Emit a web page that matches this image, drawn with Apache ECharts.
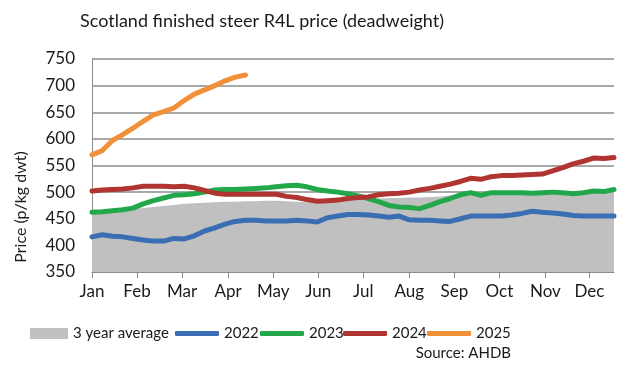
<!DOCTYPE html>
<html>
<head>
<meta charset="utf-8">
<script src="https://cdn.jsdelivr.net/npm/echarts@6/dist/echarts.min.js"></script>
<style>html,body{margin:0;padding:0;background:#fff}#c{width:632px;height:369px}</style>
</head>
<body>
<div id="c"></div>
<script>
// week index 0..51 on the x axis
const weeks = Array.from({length: 52}, (_, i) => i);
const monthLabels = ['Jan','Feb','Mar','Apr','May','Jun','Jul','Aug','Sep','Oct','Nov','Dec'];
const monthTickWeeks = [0, 4.4, 8.8, 13.3, 17.7, 22.1, 26.5, 31.0, 35.4, 39.8, 44.3, 48.6];
const yTicks = [350, 400, 450, 500, 550, 600, 650, 700, 750];

const avg3yr = [461,462,464,466,468,470,472,474,476,478,479,480,481,482,482,483,483,484,484,483,482,481,481,482,484,485,486,487,488,489,489,490,490,491,492,494,496,497,498,498,499,499,499,499,500,500,500,500,500,500,500,500];
const y2022 = [416,420,417,416,413,410,408,408,413,412,418,427,433,440,445,447,447,446,446,446,447,446,444,452,455,458,458,457,455,453,455,448,447,447,446,445,450,455,455,455,455,457,460,464,462,461,459,456,455,455,455,455];
const y2023 = [462,463,465,467,470,478,484,489,494,495,497,500,504,505,505,506,507,508,510,512,513,510,505,502,500,497,493,488,482,475,472,471,469,475,482,488,495,499,494,499,499,499,499,498,499,500,499,497,499,502,501,505];
const y2024 = [502,504,505,506,508,511,511,511,510,511,508,503,498,496,496,496,496,496,496,492,490,486,483,484,485,488,490,491,495,497,498,500,504,507,511,515,520,526,524,529,531,531,532,533,534,540,546,553,558,564,563,565];
const y2025 = [570,578,597,608,620,633,645,651,658,672,684,692,700,709,716,720];

const pairs = arr => arr.map((v, i) => [weeks[i], v]);
const FONT = 'Lato';

const chart = echarts.init(document.getElementById('c'), null, {renderer: 'canvas'});
const lineSeries = (name, data, color) => ({
  name, type: 'line', data: pairs(data), showSymbol: false, symbol: 'none',
  lineStyle: {color, width: 5, cap: 'round', join: 'round'}, itemStyle: {color},
  smooth: false, animation: false
});
const legendText = {fontFamily: FONT, fontSize: 15, color: '#1a1a1a'};
const mkLegend = (name, left, w, h, icon) => ({
  data: [name], left, top: 326, itemWidth: w, itemHeight: h, icon,
  textStyle: legendText, itemGap: 0, padding: 0
});
chart.setOption({
  animation: false,
  backgroundColor: '#fff',
  title: {
    text: 'Scotland finished steer R4L price (deadweight)',
    left: 257, textAlign: 'center', top: 7,
    textStyle: {fontFamily: FONT, fontSize: 18, fontWeight: 'normal', color: '#1a1a1a'}
  },
  legend: [
    mkLegend('3 year average', 30, 38, 11, 'rect'),
    mkLegend('2022', 175, 44, 5, 'roundRect'),
    mkLegend('2023', 260, 44, 5, 'roundRect'),
    mkLegend('2024', 343, 44, 5, 'roundRect'),
    mkLegend('2025', 427, 44, 5, 'roundRect')
  ],
  grid: {left: 92, right: 18, top: 59, bottom: 97, containLabel: false},
  xAxis: {
    type: 'value', min: 0, max: 51,
    axisLine: {show: true, lineStyle: {color: '#8c8c8c', width: 1}},
    axisTick: {show: true, length: 6, lineStyle: {color: '#8c8c8c'}, customValues: monthTickWeeks},
    axisLabel: {
      customValues: monthTickWeeks,
      formatter: v => { const i = monthTickWeeks.indexOf(v); return i >= 0 ? monthLabels[i] : ''; },
      fontFamily: FONT, fontSize: 17, color: '#1a1a1a', margin: 11
    },
    splitLine: {show: false}
  },
  yAxis: {
    type: 'value', min: yTicks[0], max: yTicks[yTicks.length - 1], interval: 50,
    axisLine: {show: true, lineStyle: {color: '#8c8c8c', width: 1}},
    axisTick: {show: false},
    axisLabel: {fontFamily: FONT, fontSize: 17, color: '#1a1a1a', margin: 17},
    splitLine: {show: true, lineStyle: {color: '#8c8c8c', width: 1.5}}
  },
  graphic: [
    {type: 'text', x: 21, y: 207, rotation: Math.PI / 2,
      style: {text: 'Price (p/kg dwt)', fontFamily: FONT, fontSize: 16, fill: '#1a1a1a', textAlign: 'center', textVerticalAlign: 'middle'}},
    {type: 'text', right: 121, top: 346,
      style: {text: 'Source: AHDB', fontFamily: FONT, fontSize: 15, fill: '#1a1a1a'}}
  ],
  series: [
    {name: '3 year average', type: 'line', data: pairs(avg3yr), showSymbol: false, symbol: 'none',
      lineStyle: {width: 0}, itemStyle: {color: '#c0c0c0'},
      areaStyle: {color: '#c0c0c0', opacity: 1, origin: 'start'}},
    lineSeries('2022', y2022, '#3b6db2'),
    lineSeries('2023', y2023, '#22a84a'),
    lineSeries('2024', y2024, '#b0342f'),
    lineSeries('2025', y2025, '#f0913a')
  ]
});
</script>
</body>
</html>
